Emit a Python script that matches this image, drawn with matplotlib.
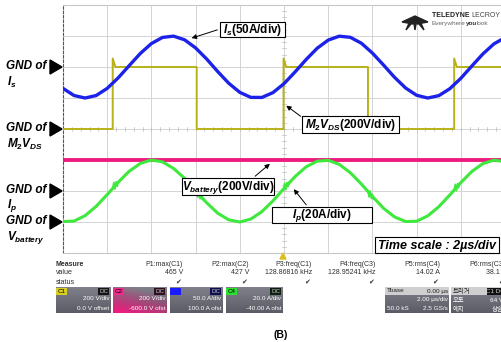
import numpy as np
import matplotlib.pyplot as plt
from matplotlib.patches import Rectangle, Polygon

plt.rcParams['font.family'] = ['Liberation Sans', 'Noto Sans CJK KR', 'DejaVu Sans']
plt.rcParams['mathtext.fontset'] = 'custom'
plt.rcParams['mathtext.rm'] = 'Liberation Sans:bold'
plt.rcParams['mathtext.it'] = 'Liberation Sans:italic:bold'
plt.rcParams['mathtext.bf'] = 'Liberation Sans:bold'

# ---- scope settings (per channel: units/div, offset) ----
scale_vds, offset_vds = 200, 0.0        # C1  M2 Vds
scale_vbat, offset_vbat = 200, -600.0   # C2  Vbattery
scale_is, offset_is = 50, 100.0         # C3  Is
scale_ip, offset_ip = 20, -40.0         # C4  Ip
time_per_div = 2.0                      # us/div

# ---- traces ----
t = np.arange(0, 20.5, 0.5)  # us
is_amp = [-34.5, -46.0, -50.0, -46.0, -34.5, -17.4, 2.4, 21.9, 37.8, 47.7,
          49.8, 43.9, 30.8, 12.9, -7.3, -26.2, -40.9, -49.0, -49.1, -41.3,
          -26.9, -8.0, 12.0, 30.2, 43.4, 49.7, 47.9, 38.4, 22.5, 3.3,
          -16.6, -33.8, -45.6, -50.0, -46.3, -35.1, -18.3, 1.6, 21.1, 37.3, 47.5]
ip_amp = [-19.7, -19.4, -15.9, -9.9, -2.3, 5.7, 12.8, 17.8, 20.0, 18.8,
          14.6, 8.2, 0.3, -7.6, -14.3, -18.6, -20.0, -18.1, -13.3, -6.4,
          1.6, 9.3, 15.6, 19.2, 19.8, 17.2, 11.8, 4.5, -3.5, -11.1,
          -16.7, -19.7, -19.5, -16.1, -10.2, -2.6, 5.4, 12.6, 17.7, 19.9, 18.9]
# switching ringing seen on Ip right after each Vds edge
ring_dt = [0, 0.05, 0.1, 0.15, 0.2, 0.25, 0.3]
ring_t0 = [2.25, 6.05, 9.98, 13.8, 17.7]
ring_ip = [[1.7, 5.5, 1.2, 6.0, 3.0, 6.0, 6.5],
           [-0.5, -4.0, -0.2, -5.0, -2.5, -5.5, -5.3],
           [1.3, 5.0, 0.8, 5.5, 2.8, 5.8, 6.0],
           [-0.3, -3.8, 0.0, -4.8, -2.3, -5.3, -5.0],
           [0.6, 4.3, 0.1, 4.8, 2.1, 5.1, 5.4]]
vbat = 400.0
vds_low, vds_high, vds_peak = 0.0, 400.0, 455.0
rise_times = [2.25, 9.98, 17.7]
fall_times = [6.05, 13.8]

# measurement table
meas_names = ['P1:max(C1)', 'P2:max(C2)', 'P3:freq(C1)', 'P4:freq(C3)', 'P5:rms(C4)', 'P6:rms(C3)']
meas_values = ['465 V', '427 V', '128.86816 kHz', '128.95241 kHz', '14.02 A', '38.1 A']

C_YEL = '#b8b21a'
C_PINK = '#ec1c7e'
C_BLUE = '#1c22e8'
C_GRN = '#3ee83c'


def to_div(v, scale, offset):
    return 4 + (np.asarray(v) + offset) / scale


def div_to_px(d):
    return 5 + (8 - d) * 31


fig = plt.figure(figsize=(5.02, 3.42), dpi=100)
ax = fig.add_axes([63 / 502, 89 / 342, 442 / 502, 248 / 342])
ax.set_xlim(0, 10 * time_per_div)
ax.set_ylim(0, 8)
ax.set_xticks(np.arange(0, 21, time_per_div))
ax.set_yticks(range(9))
ax.grid(True, color='#d4d4d4', lw=0.7)
ax.tick_params(length=0, labelbottom=False, labelleft=False)
for s in ['top', 'bottom', 'right']:
    ax.spines[s].set_color('#c8c8c8')
    ax.spines[s].set_linewidth(0.8)
ax.spines['left'].set_color('#555555')
ax.spines['left'].set_linestyle((0, (2, 2)))
ax.spines['left'].set_linewidth(0.8)
# centre crosshair minor ticks
for x in np.arange(0, 20.01, 0.4):
    ax.plot([x, x], [3.93, 4.07], color='#bdbdbd', lw=0.5)
for y in np.arange(0, 8.01, 0.2):
    ax.plot([9.93, 10.07], [y, y], color='#bdbdbd', lw=0.5)

# C1 : M2 Vds square wave built from edge times
edges = sorted([(x, 'r') for x in rise_times] + [(x, 'f') for x in fall_times])
vx, vy = [0.0], [vds_low]
for te, kind in edges:
    if kind == 'r':
        vx += [te, te, te + 0.12]
        vy += [vds_low, vds_peak, vds_high]
    else:
        vx += [te, te]
        vy += [vds_high, vds_low]
vx.append(20.0)
vy.append(vy[-1])
ax.plot(vx, to_div(vy, scale_vds, offset_vds), color=C_YEL, lw=1.4, zorder=3)

# C2 : Vbattery
ax.plot([0, 20], to_div([vbat, vbat], scale_vbat, offset_vbat), color=C_PINK, lw=2.8, zorder=4)
# C3 : Is
ax.plot(t, to_div(is_amp, scale_is, offset_is), color=C_BLUE, lw=2.4, zorder=5)
# C4 : Ip
ax.plot(t, to_div(ip_amp, scale_ip, offset_ip), color=C_GRN, lw=2.2, zorder=6)
for t0, seg in zip(ring_t0, ring_ip):
    ax.plot(t0 + np.array(ring_dt), to_div(seg, scale_ip, offset_ip), color=C_GRN, lw=1.2, zorder=6)

# ---- overlay in pixel coordinates ----
ov = fig.add_axes([0, 0, 1, 1], zorder=10)
ov.patch.set_visible(False)
ov.axis('off')
ov.set_xlim(0, 502)
ov.set_ylim(342, 0)

# GND markers and labels
gnd = [(to_div(0, scale_is, offset_is), r'$I_s$'),
       (to_div(0, scale_vds, offset_vds), r'$M_2V_{DS}$'),
       (to_div(0, scale_ip, offset_ip), r'$I_p$'),
       (to_div(0, scale_vbat, offset_vbat), r'$V_{battery}$')]
for d, lab in gnd:
    yp = div_to_px(d)
    ov.add_patch(Polygon([[50, yp - 7], [50, yp + 7], [62, yp]], closed=True, color='black', zorder=3))
    ov.text(6, yp - 1, 'GND of', fontsize=8.5, fontweight='bold', fontstyle='italic', va='center', ha='left')
    ov.text(7, yp + 15, lab, fontsize=8.5, fontweight='bold', va='center', ha='left')


def label_box(x0, y0, w, h, s, tail, head, fs=8.5):
    ov.add_patch(Rectangle((x0, y0), w, h, fc='white', ec='black', lw=0.8, zorder=4))
    ov.text(x0 + w / 2, y0 + h / 2 + 0.5, s, fontsize=fs, fontweight='bold',
            ha='center', va='center', zorder=5)
    ov.annotate('', xy=head, xytext=tail,
                arrowprops=dict(arrowstyle='-|>', color='black', lw=0.7, mutation_scale=7), zorder=5)


label_box(220, 22, 65, 15, r'$I_s$(50A/div)', (220, 29), (189, 39))
label_box(302, 116, 97, 17, r'$M_2V_{DS}$(200V/div)', (303, 118), (284, 104))
label_box(182, 178, 92, 17, r'$V_{battery}$(200V/div)', (253, 178), (272, 162))
label_box(272, 207, 100, 16, r'$I_p$(20A/div)', (308, 207), (292, 187))
ov.add_patch(Rectangle((375, 237), 124, 16, fc='white', ec='black', lw=0.8, zorder=4))
ov.text(437, 245.5, 'Time scale : 2µs/div', fontsize=9, fontweight='bold', fontstyle='italic',
        ha='center', va='center', zorder=5)

# trigger position marker
ov.add_patch(Polygon([[280, 259], [286, 259], [283, 253]], closed=True, color='#d8c020', zorder=3))

# Teledyne LeCroy logo
for tri in [[(402, 22), (415, 16), (413, 24)], [(428, 22), (415, 16), (417, 24)],
            [(413, 18), (417, 18), (415, 30)], [(410, 21), (413.5, 21), (406, 30)],
            [(416.5, 21), (420, 21), (424, 30)]]:
    ov.add_patch(Polygon(tri, closed=True, color='#222222'))

renderer = fig.canvas.get_renderer()


def text_runs(x, y, runs, fs):
    # place pieces of text one after the other
    for s, kw in runs:
        tx = ov.text(x, y, s, fontsize=fs, va='center', ha='left', **kw)
        bb = tx.get_window_extent(renderer)
        x += bb.width * 502 / fig.bbox.width


text_runs(432, 15.5, [('TELEDYNE ', dict(fontweight='bold', color='#222222')),
                      ('LECROY', dict(color='#444444'))], 5.0)
text_runs(432, 23.5, [('Everywhere', dict(color='#666666')),
                      ('you', dict(fontweight='bold', color='#333333')),
                      ('look', dict(color='#666666'))], 4.6)

# measurement table
tc = '#2e2e2e'
ov.text(56, 264, 'Measure', fontsize=5, fontweight='bold', color=tc, va='center')
ov.text(56, 273, 'value', fontsize=5, color=tc, va='center')
ov.text(56, 282, 'status', fontsize=5, color=tc, va='center')
meas_x = [183, 249, 312, 376, 440, 506]
for xr, nm, val in zip(meas_x, meas_names, meas_values):
    ov.text(xr, 264, nm, fontsize=5, color=tc, ha='right', va='center')
    ov.text(xr, 273, val, fontsize=5, color=tc, ha='right', va='center')
    ov.text(xr - 2, 282, '✔', fontsize=5, color='#333333', ha='right', va='center', family='DejaVu Sans')


def panel(x0, w, tint=None, y0=287, h=26):
    ny, nx = 20, 40
    g = np.linspace(0.50, 0.36, ny)[:, None, None] * np.ones((ny, nx, 3))
    g[..., 2] += 0.04
    if tint is not None:
        yy = np.linspace(0, 1, ny)[:, None]
        xx = np.linspace(1, 0, nx)[None, :]
        wgt = np.clip(yy * 0.9 + xx * 0.5 - 0.3, 0, 1)[..., None]
        g = g * (1 - wgt) + np.array(tint)[None, None, :] * wgt
    ov.imshow(np.clip(g, 0, 1), extent=(x0, x0 + w, y0 + h, y0), aspect='auto',
              interpolation='bilinear', zorder=1)


def tag(x0, w, fc, s, tcol='black', y0=287.5, h=7):
    ov.add_patch(Rectangle((x0, y0), w, h, fc=fc, ec='none', zorder=2))
    ov.text(x0 + w / 2, y0 + h / 2 + 0.3, s, fontsize=4.5, color=tcol, ha='center', va='center', zorder=3)


chan_panels = [(56, 55, '#d8d020', 'C1', '#141414', '200 V/div', '0.0 V offset', None),
               (113, 54, '#ee2a8a', 'C2', '#301020', '200 V/div', '-600.0 V ofst', (0.92, 0.12, 0.50)),
               (170, 53, '#1a1aff', '', '#101050', '50.0 A/div', '100.0 A ofst', None),
               (226, 57, '#30e030', 'C4', '#102010', '20.0 A/div', '-40.00 A ofst', None)]
for x0, w, tfc, tname, dcfc, l1, l2, tint in chan_panels:
    panel(x0, w, tint)
    tag(x0 + 0.5, 11, tfc, tname)
    tag(x0 + w - 12.5, 11, dcfc, 'DC', tcol='#c0c0c0')
    ov.text(x0 + w - 1.5, 299, l1, fontsize=4.6, color='white', ha='right', va='center', zorder=3)
    ov.text(x0 + w - 1.5, 308, l2, fontsize=4.6, color='white', ha='right', va='center', zorder=3)

# timebase panel
panel(385, 64)
ov.add_patch(Rectangle((385, 287), 64, 7.5, fc='#cfcfcf', ec='none', zorder=2))
ov.text(387, 291, 'Tbase', fontsize=4.6, color='#222222', va='center', zorder=3)
ov.text(448, 291, '0.00 µs', fontsize=4.6, color='#222222', ha='right', va='center', zorder=3)
ov.text(448, 300, '2.00 µs/div', fontsize=4.6, color='white', ha='right', va='center', zorder=3)
ov.text(387, 308.5, '50.0 kS', fontsize=4.6, color='white', va='center', zorder=3)
ov.text(448, 308.5, '2.5 GS/s', fontsize=4.6, color='white', ha='right', va='center', zorder=3)

# trigger panel
panel(451, 55)
ov.add_patch(Rectangle((451, 287), 55, 7.5, fc='#cfcfcf', ec='none', zorder=2))
ov.text(453, 291, '트리거', fontsize=4.6, color='#222222', va='center', zorder=3)
tag(487, 16, '#111111', 'C1 DC', tcol='#d0d0d0')
ov.text(453, 300, '오토', fontsize=4.6, color='white', va='center', zorder=3)
ov.text(453, 308.5, '에지', fontsize=4.6, color='white', va='center', zorder=3)
ov.text(503, 300, '64 V', fontsize=4.6, color='white', ha='right', va='center', zorder=3)
ov.text(503, 308.5, '상승', fontsize=4.6, color='white', ha='right', va='center', zorder=3)

ov.text(281, 335, '(B)', fontsize=7.5, fontweight='bold', ha='center', va='center')

ov.set_xlim(0, 502)
ov.set_ylim(342, 0)

fig.savefig('out.png', dpi=100)
